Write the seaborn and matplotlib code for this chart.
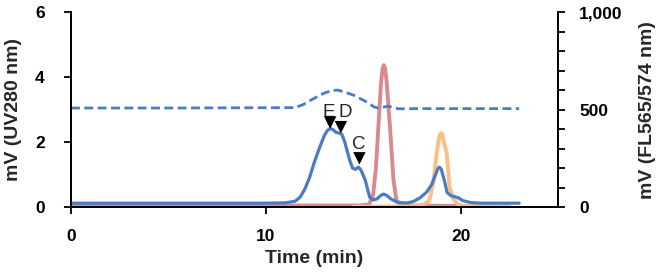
import numpy as np
import pandas as pd
import seaborn as sns
import matplotlib.pyplot as plt
from matplotlib.ticker import MultipleLocator, FuncFormatter

sns.set_style("ticks")
plt.rcParams['font.family'] = ['Liberation Sans', 'DejaVu Sans']

# UV280 trace (left axis, mV)
uv_time = [0, 5, 10, 11.0, 11.5, 11.75, 12.0, 12.25, 12.5, 12.77, 13.0, 13.15, 13.3,
           13.45, 13.6, 13.75, 13.9, 14.05, 14.3, 14.45, 14.6, 14.75, 14.9, 15.1,
           15.33, 15.5, 15.7, 15.9, 16.05, 16.2, 16.4, 16.7, 17.0, 17.3, 17.6,
           17.9, 18.25, 18.5, 18.7, 18.8, 18.9, 19.0, 19.15, 19.3, 19.5, 19.7,
           19.9, 20.1, 20.5, 21, 23]
uv_mv = [0.12, 0.12, 0.12, 0.13, 0.18, 0.3, 0.55, 0.92, 1.4, 1.85, 2.2, 2.35, 2.42,
         2.38, 2.3, 2.28, 2.24, 2.0, 1.45, 1.2, 1.16, 1.23, 1.12, 0.83,
         0.3, 0.22, 0.25, 0.36, 0.4, 0.36, 0.26, 0.16, 0.13, 0.13, 0.18,
         0.28, 0.46, 0.68, 0.98, 1.15, 1.23, 1.17, 0.85, 0.45, 0.35, 0.32,
         0.28, 0.2, 0.14, 0.12, 0.12]

# fluorescence traces (right axis, mV)
dash_time = [0, 5, 11.5, 11.9, 12.3, 12.6, 13.0, 13.4, 13.7, 14.1, 14.5, 15.2,
             15.55, 15.75, 16.0, 16.25, 16.5, 16.8, 18, 23]
dash_mv = [508, 508, 510, 525, 548, 564, 585, 598, 600, 588, 574, 538,
           514, 508, 512, 517, 512, 504, 505, 505]

red_time = [0, 10, 14.8, 15.3, 15.5, 15.65, 15.75, 15.9, 15.98, 16.05, 16.12,
            16.2, 16.4, 16.55, 16.7, 16.9, 17.5, 20, 21.5, 22.5]
red_mv = [8, 8, 8, 14, 60, 200, 370, 620, 705, 728, 712, 640, 370, 140, 35, 12,
          8, 6, 3, 2]

orange_time = [14.5, 16, 17.5, 18.1, 18.4, 18.6, 18.77, 18.9, 18.95, 19.0, 19.05,
               19.1, 19.28, 19.43, 19.6, 19.85, 20.2, 22.5]
orange_mv = [2, 3, 4, 12, 35, 130, 277, 360, 375, 380, 374, 350, 277, 100, 46,
             15, 5, 3]

peak_labels = ['E', 'D', 'C']
peak_time = [13.3, 13.85, 14.8]
peak_mark = [2.6, 2.46, 1.5]
label_time = [13.25, 14.05, 14.75]
label_mv = [2.92, 2.92, 1.92]

blue = '#4a7cc4'
red = '#d98a8c'
orange = '#fcbd86'

fig = plt.figure(figsize=(6.7, 2.75), dpi=100)
ax = fig.add_axes([0.106, 0.247, 0.727, 0.709])
ax2 = ax.twinx()

sns.lineplot(x=red_time, y=red_mv, ax=ax2, color=red, lw=2.8, sort=False)
sns.lineplot(x=orange_time, y=orange_mv, ax=ax2, color=orange, lw=2.8, sort=False)
sns.lineplot(x=dash_time, y=dash_mv, ax=ax2, color=blue, lw=2.0, ls=(0, (3.2, 1.6)), sort=False)
sns.lineplot(x=uv_time, y=uv_mv, ax=ax, color=blue, lw=2.3, sort=False)

ax.set_zorder(ax2.get_zorder() + 1)
ax.patch.set_visible(False)

sns.scatterplot(x=peak_time, y=peak_mark, ax=ax, marker='v', s=80, color='black',
                edgecolor='none', zorder=5)
for lab, t, v in zip(peak_labels, label_time, label_mv):
    ax.text(t, v, lab, ha='center', va='center', fontsize=13.5)

ax.set_xlim(0, 25)
ax.set_ylim(0, 6)
ax2.set_ylim(0, 1000)
ax.set_xticks([0, 10, 20])
ax.set_yticks([0, 2, 4, 6])
ax2.yaxis.set_major_locator(MultipleLocator(100))
ax2.yaxis.set_major_formatter(FuncFormatter(
    lambda v, p: f'{int(v):,}' if int(round(v)) % 500 == 0 else ''))

for a in (ax, ax2):
    a.spines['top'].set_visible(False)
    for s in a.spines.values():
        s.set_linewidth(1.3)
        s.set_color('black')
    a.tick_params(width=1.3, length=5, labelsize=12.5, colors='black')
    for t in a.get_xticklabels() + a.get_yticklabels():
        t.set_fontweight('bold')
ax.tick_params(axis='y', pad=14)
ax.tick_params(axis='x', pad=11)
ax2.tick_params(axis='y', pad=10)

ax.set_xlabel('Time (min)', fontsize=14, fontweight='bold', labelpad=4)
ax.set_ylabel('mV (UV280 nm)', fontsize=14, fontweight='bold', labelpad=9)
ax2.set_ylabel('mV (FL565/574 nm)', fontsize=14, fontweight='bold', labelpad=12)

fig.savefig('out.png', dpi=100)
